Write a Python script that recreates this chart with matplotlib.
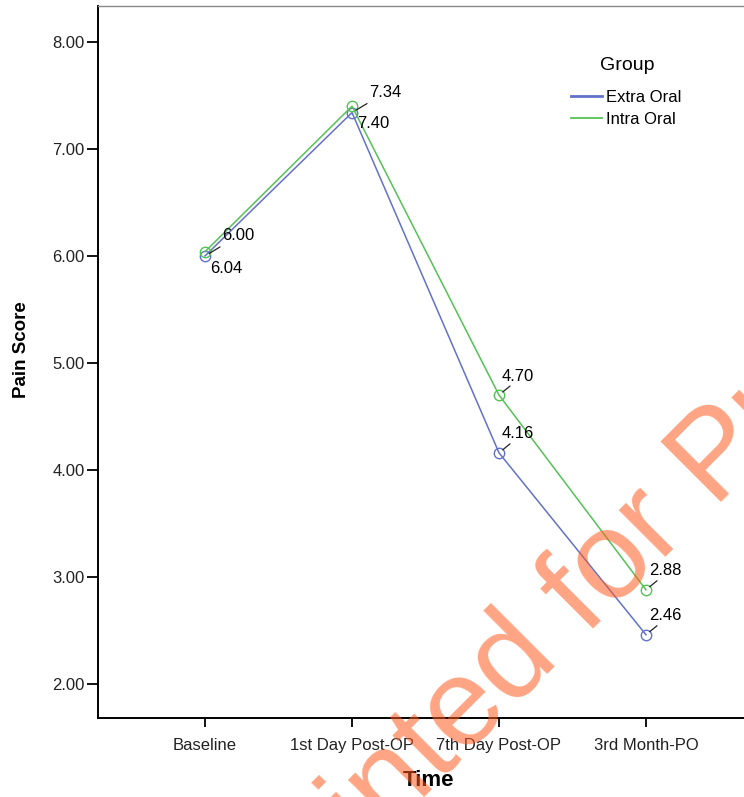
import matplotlib.pyplot as plt
from matplotlib.lines import Line2D

plt.rcParams['font.family'] = ['Liberation Sans', 'DejaVu Sans']

times = ["Baseline", "1st Day Post-OP", "7th Day Post-OP", "3rd Month-PO"]
extra_oral = [6.00, 7.34, 4.16, 2.46]
intra_oral = [6.04, 7.40, 4.70, 2.88]
groups = ["Extra Oral", "Intra Oral"]
yticks = [2, 3, 4, 5, 6, 7, 8]

blue = "#6272c8"
green = "#55c255"

W, H = 744, 797
fig = plt.figure(figsize=(W / 100, H / 100), dpi=100)
# axes runs past the right edge of the figure, as in the cropped original
ax = fig.add_axes([98 / W, 1 - 718 / H, (753 - 98) / W, (718 - 6) / H])

x = list(range(len(times)))
ax.plot(x, extra_oral, color=blue, lw=1.1, marker="o", ms=7.5, mfc="none",
        mew=1.0, zorder=3)
ax.plot(x, intra_oral, color=green, lw=1.1, marker="o", ms=7.5, mfc="none",
        mew=1.0, zorder=3)

ax.set_xlim(-0.728, 3.728)
ax.set_ylim(1.682, 8.336)
ax.set_xticks(x)
ax.set_xticklabels(times, fontsize=12, color="#222222")
ax.set_yticks(yticks)
ax.set_yticklabels([f"{v:.2f}" for v in yticks], fontsize=12, color="#222222")
ax.tick_params(axis="y", length=8, width=1.3, pad=1.5)
ax.tick_params(axis="x", length=6.5, width=1.3, pad=8)
for s in ["left", "bottom"]:
    ax.spines[s].set_linewidth(1.4)
ax.spines["top"].set_color("#888888")
ax.spines["top"].set_linewidth(1.0)


def label(i, val, kind):
    txt = f"{val:.2f}"
    if kind == "below":
        ax.annotate(txt, xy=(i, val), xytext=(5, -17), textcoords="offset pixels",
                    ha="left", va="center", fontsize=12)
        return
    if kind == "far":
        dx, dy, lx, ly = 17, 20, 15, 9
    else:
        dx, dy, lx, ly = 3, 19, 11, 9
    ax.annotate(txt, xy=(i, val), xytext=(dx, dy), textcoords="offset pixels",
                ha="left", va="center", fontsize=12)
    ax.annotate("", xy=(i, val), xytext=(lx, ly), textcoords="offset pixels",
                arrowprops=dict(arrowstyle="-", color="#222222", lw=0.9,
                                shrinkA=0, shrinkB=3.5))


for i in range(len(times)):
    if i < 2:
        label(i, extra_oral[i], "far")
        label(i, intra_oral[i], "below")
    else:
        label(i, extra_oral[i], "near")
        label(i, intra_oral[i], "near")

handles = [Line2D([], [], color=blue, lw=2.0), Line2D([], [], color=green, lw=1.3)]
leg = ax.legend(handles, groups, frameon=False, fontsize=12, loc="upper left",
                bbox_to_anchor=(571 / W, 1 - 90 / H),
                bbox_transform=fig.transFigure, handlelength=1.85,
                handletextpad=0.25, labelspacing=0.42, borderpad=0,
                borderaxespad=0)
fig.text(627 / W, 1 - 66 / H, "Group", ha="center", va="center", fontsize=14)

fig.text(22 / W, 1 - 350 / H, "Pain Score", rotation=90, ha="center", va="center",
         fontsize=13.5, fontweight="bold")
fig.text(428 / W, 1 - 780 / H, "Time", ha="center", va="center",
         fontsize=16, fontweight="bold")

# watermark
wm = dict(rotation=45, rotation_mode="anchor", va="baseline", fontsize=90,
          color="#ff5a1e", alpha=0.55, zorder=10)
fig.text(586 / W, 1 - 636 / H, "Printed ", ha="right", **wm)
fig.text(586 / W, 1 - 636 / H, "for Publication", ha="left", **wm)

fig.savefig("out.png", dpi=100)
